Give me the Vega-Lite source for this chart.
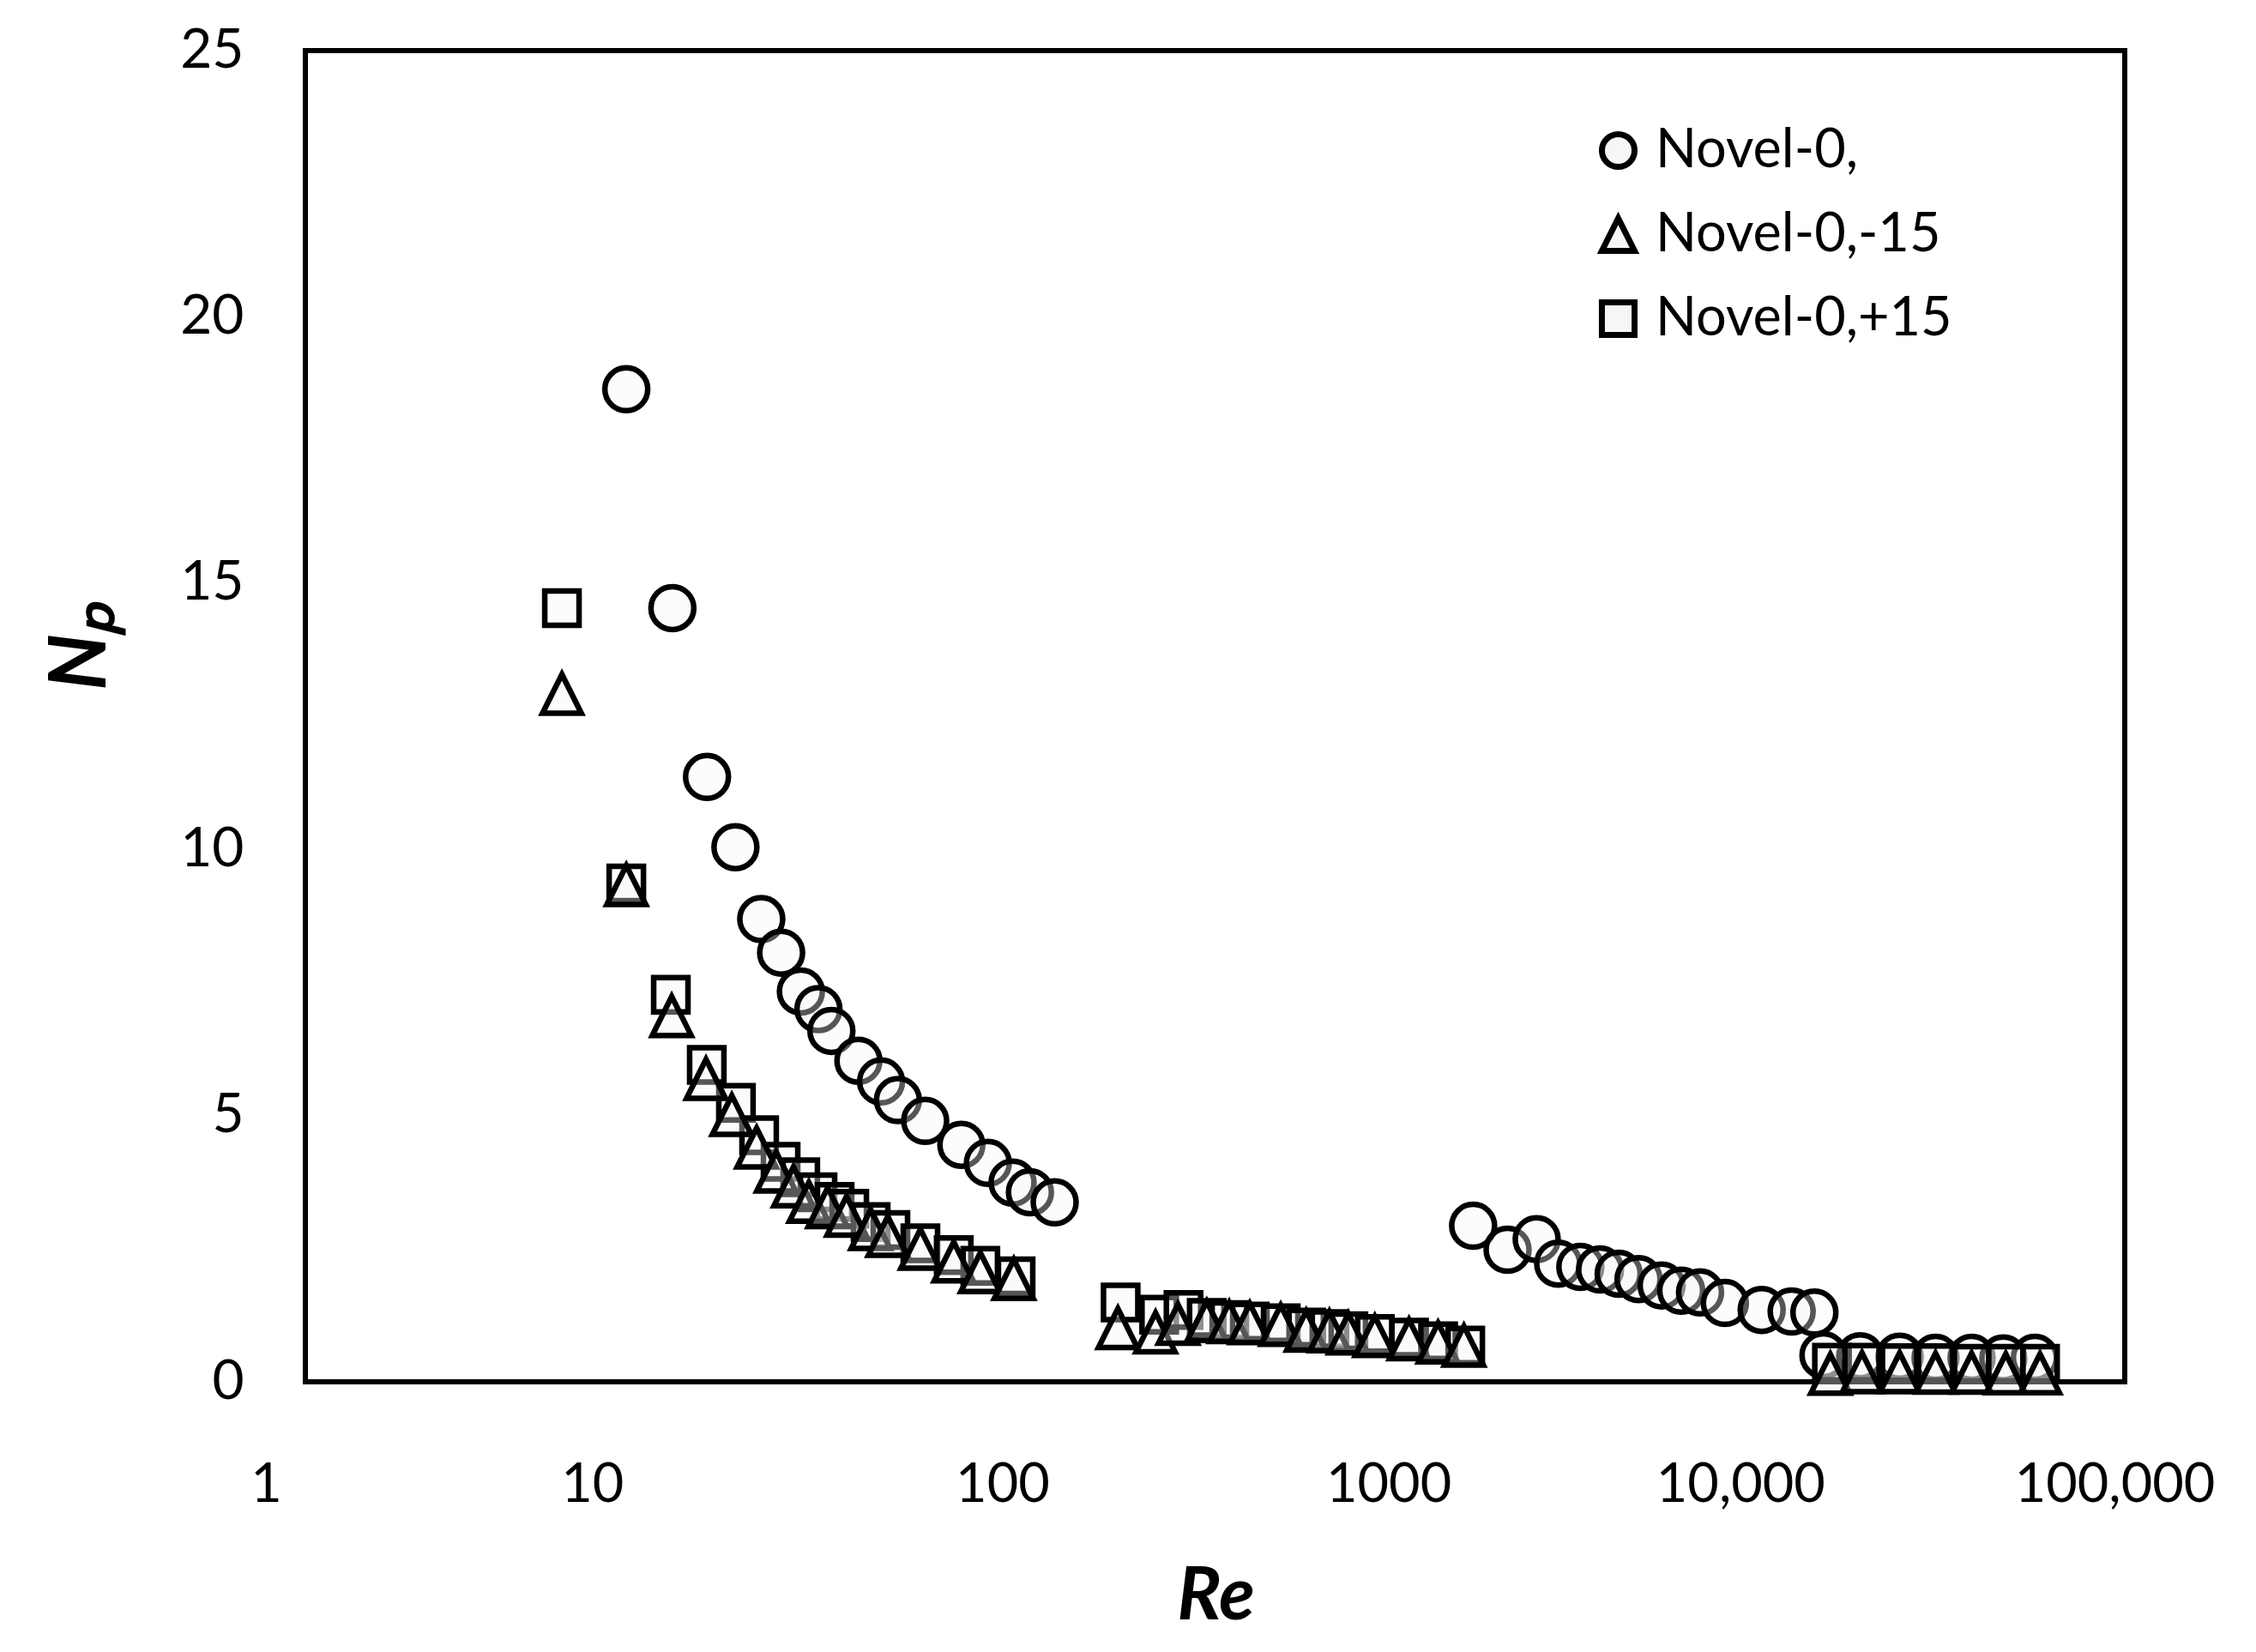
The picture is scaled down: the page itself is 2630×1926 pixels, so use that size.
{
  "$schema": "https://vega.github.io/schema/vega-lite/v6.json",
  "width": 2121,
  "height": 1552,
  "autosize": {"type": "none"},
  "padding": {"left": 356, "top": 59, "right": 153, "bottom": 315},
  "background": "white",
  "config": {"view": {"stroke": "black", "strokeWidth": 6}, "font": "Lato"},
  "data": {"values": [
    {"series": "Novel-0,", "Re": 7.62, "Np": 18.64},
    {"series": "Novel-0,", "Re": 10.2, "Np": 14.53},
    {"series": "Novel-0,", "Re": 12.7, "Np": 11.36},
    {"series": "Novel-0,", "Re": 15.2, "Np": 10.04},
    {"series": "Novel-0,", "Re": 17.9, "Np": 8.69},
    {"series": "Novel-0,", "Re": 20.3, "Np": 8.06},
    {"series": "Novel-0,", "Re": 23.0, "Np": 7.33},
    {"series": "Novel-0,", "Re": 25.7, "Np": 7.0},
    {"series": "Novel-0,", "Re": 27.9, "Np": 6.59},
    {"series": "Novel-0,", "Re": 33.1, "Np": 6.03},
    {"series": "Novel-0,", "Re": 38.2, "Np": 5.64},
    {"series": "Novel-0,", "Re": 42.5, "Np": 5.29},
    {"series": "Novel-0,", "Re": 50.5, "Np": 4.9},
    {"series": "Novel-0,", "Re": 63.5, "Np": 4.45},
    {"series": "Novel-0,", "Re": 75.1, "Np": 4.11},
    {"series": "Novel-0,", "Re": 87.8, "Np": 3.74},
    {"series": "Novel-0,", "Re": 98.0, "Np": 3.56},
    {"series": "Novel-0,", "Re": 114.6, "Np": 3.37},
    {"series": "Novel-0,", "Re": 1619, "Np": 2.93},
    {"series": "Novel-0,", "Re": 2013, "Np": 2.48},
    {"series": "Novel-0,", "Re": 2420, "Np": 2.68},
    {"series": "Novel-0,", "Re": 2773, "Np": 2.22},
    {"series": "Novel-0,", "Re": 3190, "Np": 2.16},
    {"series": "Novel-0,", "Re": 3614, "Np": 2.11},
    {"series": "Novel-0,", "Re": 4066, "Np": 2.03},
    {"series": "Novel-0,", "Re": 4611, "Np": 1.93},
    {"series": "Novel-0,", "Re": 5335, "Np": 1.81},
    {"series": "Novel-0,", "Re": 6039, "Np": 1.71},
    {"series": "Novel-0,", "Re": 6804, "Np": 1.68},
    {"series": "Novel-0,", "Re": 7962, "Np": 1.48},
    {"series": "Novel-0,", "Re": 10050, "Np": 1.35},
    {"series": "Novel-0,", "Re": 12150, "Np": 1.32},
    {"series": "Novel-0,", "Re": 14030, "Np": 1.3},
    {"series": "Novel-0,", "Re": 14860, "Np": 0.5},
    {"series": "Novel-0,", "Re": 18750, "Np": 0.48},
    {"series": "Novel-0,", "Re": 24060, "Np": 0.47},
    {"series": "Novel-0,", "Re": 30200, "Np": 0.45},
    {"series": "Novel-0,", "Re": 37930, "Np": 0.45},
    {"series": "Novel-0,", "Re": 46380, "Np": 0.44},
    {"series": "Novel-0,", "Re": 56620, "Np": 0.45},

    {"series": "Novel-0,+15", "Re": 5.07, "Np": 14.53},
    {"series": "Novel-0,+15", "Re": 7.62, "Np": 9.36},
    {"series": "Novel-0,+15", "Re": 10.1, "Np": 7.27},
    {"series": "Novel-0,+15", "Re": 12.68, "Np": 5.95},
    {"series": "Novel-0,+15", "Re": 15.25, "Np": 5.24},
    {"series": "Novel-0,+15", "Re": 17.66, "Np": 4.63},
    {"series": "Novel-0,+15", "Re": 20.23, "Np": 4.13},
    {"series": "Novel-0,+15", "Re": 22.91, "Np": 3.84},
    {"series": "Novel-0,+15", "Re": 25.55, "Np": 3.56},
    {"series": "Novel-0,+15", "Re": 28.47, "Np": 3.38},
    {"series": "Novel-0,+15", "Re": 31.24, "Np": 3.25},
    {"series": "Novel-0,+15", "Re": 35.77, "Np": 3.0},
    {"series": "Novel-0,+15", "Re": 40.53, "Np": 2.85},
    {"series": "Novel-0,+15", "Re": 49.0, "Np": 2.6},
    {"series": "Novel-0,+15", "Re": 60.5, "Np": 2.38},
    {"series": "Novel-0,+15", "Re": 71.6, "Np": 2.18},
    {"series": "Novel-0,+15", "Re": 89.5, "Np": 1.98},
    {"series": "Novel-0,+15", "Re": 174, "Np": 1.49},
    {"series": "Novel-0,+15", "Re": 222, "Np": 1.26},
    {"series": "Novel-0,+15", "Re": 259, "Np": 1.35},
    {"series": "Novel-0,+15", "Re": 300, "Np": 1.2},
    {"series": "Novel-0,+15", "Re": 346, "Np": 1.16},
    {"series": "Novel-0,+15", "Re": 394, "Np": 1.13},
    {"series": "Novel-0,+15", "Re": 479, "Np": 1.1},
    {"series": "Novel-0,+15", "Re": 563, "Np": 1.02},
    {"series": "Novel-0,+15", "Re": 652, "Np": 0.99},
    {"series": "Novel-0,+15", "Re": 735, "Np": 0.95},
    {"series": "Novel-0,+15", "Re": 869, "Np": 0.9},
    {"series": "Novel-0,+15", "Re": 1079, "Np": 0.83},
    {"series": "Novel-0,+15", "Re": 1297, "Np": 0.76},
    {"series": "Novel-0,+15", "Re": 1540, "Np": 0.68},
    {"series": "Novel-0,+15", "Re": 15680, "Np": 0.36},
    {"series": "Novel-0,+15", "Re": 18960, "Np": 0.36},
    {"series": "Novel-0,+15", "Re": 24060, "Np": 0.35},
    {"series": "Novel-0,+15", "Re": 30200, "Np": 0.35},
    {"series": "Novel-0,+15", "Re": 37930, "Np": 0.34},
    {"series": "Novel-0,+15", "Re": 47100, "Np": 0.34},
    {"series": "Novel-0,+15", "Re": 58500, "Np": 0.34},

    {"series": "Novel-0,-15", "Re": 5.07, "Np": 12.92},
    {"series": "Novel-0,-15", "Re": 7.62, "Np": 9.33},
    {"series": "Novel-0,-15", "Re": 10.16, "Np": 6.87},
    {"series": "Novel-0,-15", "Re": 12.62, "Np": 5.69},
    {"series": "Novel-0,-15", "Re": 14.86, "Np": 5.01},
    {"series": "Novel-0,-15", "Re": 17.38, "Np": 4.4},
    {"series": "Novel-0,-15", "Re": 19.68, "Np": 3.95},
    {"series": "Novel-0,-15", "Re": 21.94, "Np": 3.67},
    {"series": "Novel-0,-15", "Re": 24.19, "Np": 3.38},
    {"series": "Novel-0,-15", "Re": 27.26, "Np": 3.28},
    {"series": "Novel-0,-15", "Re": 30.7, "Np": 3.12},
    {"series": "Novel-0,-15", "Re": 35.77, "Np": 2.87},
    {"series": "Novel-0,-15", "Re": 39.87, "Np": 2.74},
    {"series": "Novel-0,-15", "Re": 49.0, "Np": 2.5},
    {"series": "Novel-0,-15", "Re": 60.5, "Np": 2.26},
    {"series": "Novel-0,-15", "Re": 71.6, "Np": 2.06},
    {"series": "Novel-0,-15", "Re": 88.5, "Np": 1.93},
    {"series": "Novel-0,-15", "Re": 171, "Np": 1.01},
    {"series": "Novel-0,-15", "Re": 217, "Np": 0.93},
    {"series": "Novel-0,-15", "Re": 250, "Np": 1.09},
    {"series": "Novel-0,-15", "Re": 300, "Np": 1.14},
    {"series": "Novel-0,-15", "Re": 346, "Np": 1.12},
    {"series": "Novel-0,-15", "Re": 394, "Np": 1.1},
    {"series": "Novel-0,-15", "Re": 479, "Np": 1.07},
    {"series": "Novel-0,-15", "Re": 563, "Np": 0.96},
    {"series": "Novel-0,-15", "Re": 652, "Np": 0.95},
    {"series": "Novel-0,-15", "Re": 735, "Np": 0.91},
    {"series": "Novel-0,-15", "Re": 869, "Np": 0.86},
    {"series": "Novel-0,-15", "Re": 1079, "Np": 0.8},
    {"series": "Novel-0,-15", "Re": 1297, "Np": 0.74},
    {"series": "Novel-0,-15", "Re": 1527, "Np": 0.68},
    {"series": "Novel-0,-15", "Re": 15520, "Np": 0.15},
    {"series": "Novel-0,-15", "Re": 18960, "Np": 0.18},
    {"series": "Novel-0,-15", "Re": 24060, "Np": 0.18},
    {"series": "Novel-0,-15", "Re": 30200, "Np": 0.17},
    {"series": "Novel-0,-15", "Re": 37930, "Np": 0.17},
    {"series": "Novel-0,-15", "Re": 47100, "Np": 0.16},
    {"series": "Novel-0,-15", "Re": 58480, "Np": 0.16}
  ]},
  "mark": {"type": "point", "filled": false, "fill": "#f6f6f6", "fillOpacity": 0.35, "stroke": "black", "strokeWidth": 6.5, "opacity": 1},
  "encoding": {
    "x": {
      "field": "Re", "type": "quantitative",
      "scale": {"type": "log", "domain": [1, 100000], "nice": false},
      "axis": {
        "values": [1, 10, 100, 1000, 10000, 100000],
        "labelExpr": "datum.value >= 10000 ? format(datum.value, ',d') : format(datum.value, 'd')",
        "domain": false, "ticks": false, "tickSize": 0, "grid": false,
        "labelFont": "Lato", "labelFontSize": 63, "labelColor": "black",
        "labelPadding": 89, "labelBaseline": "top", "labelLimit": 0,
        "labelFlush": false, "labelOverlap": false, "labelBound": false,
        "labelOffset": {"condition": [
          {"test": "datum.value == 1", "value": -46},
          {"test": "datum.value == 10", "value": -90},
          {"test": "datum.value == 100", "value": -36},
          {"test": "datum.value == 1000", "value": -10},
          {"test": "datum.value == 10000", "value": -24}
        ], "value": -12},
        "title": "Re", "titleFont": "Lato", "titleFontSize": 86, "titleFontWeight": "bold", "titleFontStyle": "italic", "titleColor": "black",
        "titleX": 1061, "titleY": 276, "titleBaseline": "alphabetic", "titleAlign": "center"
      }
    },
    "y": {
      "field": "Np", "type": "quantitative",
      "scale": {"domain": [0, 25], "nice": false},
      "axis": {
        "values": [0, 5, 10, 15, 20, 25],
        "domain": false, "ticks": false, "tickSize": 0, "grid": false,
        "labelFont": "Lato", "labelFontSize": 64, "labelColor": "black",
        "labelPadding": 72, "labelFlush": false, "labelOverlap": false,
        "title": "Nₚ", "titleFont": "Lato", "titleFontSize": 92, "titleFontWeight": "bold", "titleFontStyle": "italic", "titleColor": "black",
        "titleAngle": -90, "titleX": -234, "titleY": 694, "titleBaseline": "alphabetic", "titleAlign": "center"
      }
    },
    "shape": {
      "field": "series", "type": "nominal",
      "scale": {"domain": ["Novel-0,", "Novel-0,-15", "Novel-0,+15"], "range": ["circle", "M0,-1L1,1L-1,1Z", "square"]},
      "legend": {
        "title": null, "orient": "none", "legendX": 1499, "legendY": 85, "padding": 0,
        "labelFont": "Lato", "labelFontSize": 63, "labelColor": "black", "labelOffset": 12, "labelLimit": 0,
        "rowPadding": 31, "symbolSize": 1450, "symbolStrokeWidth": 7
      }
    },
    "size": {
      "field": "series", "type": "nominal",
      "scale": {"domain": ["Novel-0,+15", "Novel-0,-15", "Novel-0,"], "range": [1600, 2500, 3136]},
      "legend": null
    }
  }
}
